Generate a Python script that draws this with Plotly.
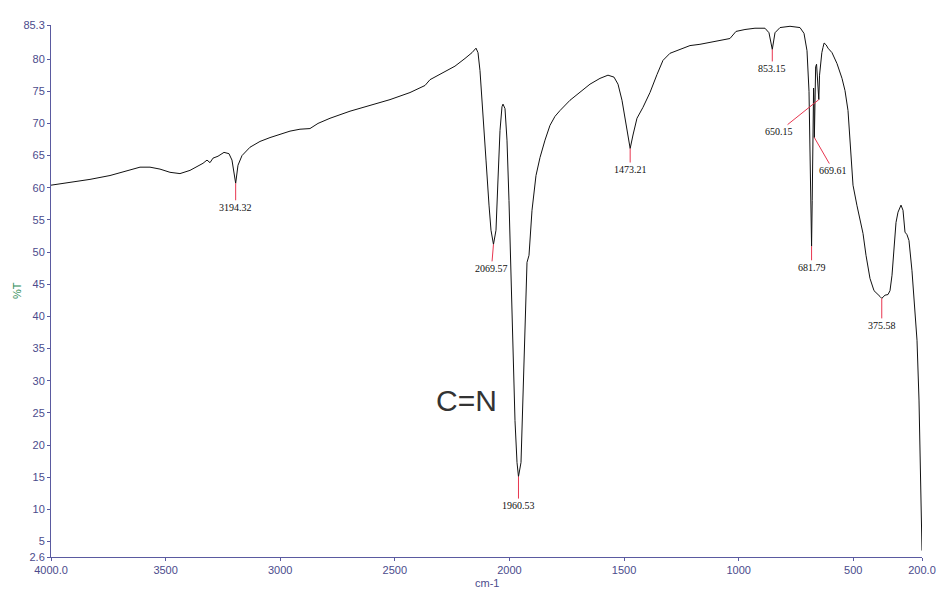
import plotly.graph_objects as go

# IR spectrum: wavenumber (cm-1) and transmittance (%T)
wavenumber = [
    4000.0, 3917.1, 3829.9, 3742.6, 3677.2, 3611.7, 3568.1, 3524.5, 3480.9, 3437.3,
    3393.6, 3358.7, 3336.9, 3319.4, 3306.3, 3293.3, 3271.4, 3245.3, 3223.5, 3210.4,
    3194.32, 3184.2, 3166.7, 3131.8, 3088.2, 3044.6, 3000.9, 2957.3, 2913.7, 2870.1,
    2835.1, 2782.8, 2695.5, 2608.3, 2521.0, 2433.8, 2368.3, 2346.5, 2302.9, 2237.5,
    2193.8, 2163.3, 2145.8, 2137.1, 2128.4, 2115.3, 2102.2, 2089.1, 2080.4, 2069.57,
    2058.6, 2049.9, 2041.1, 2032.4, 2028.0, 2019.3, 2010.6, 2001.9, 1993.1, 1984.4,
    1975.7, 1966.9, 1960.53, 1949.5, 1940.8, 1932.1, 1923.3, 1914.6, 1901.5, 1884.1,
    1866.6, 1844.8, 1823.0, 1801.2, 1779.3, 1735.7, 1692.1, 1648.5, 1604.9, 1570.0,
    1543.8, 1526.3, 1508.9, 1491.4, 1473.21, 1460.9, 1443.5, 1417.3, 1386.8, 1356.2,
    1330.1, 1299.5, 1255.9, 1212.3, 1168.7, 1125.0, 1081.4, 1037.8, 1011.6, 972.3,
    928.7, 885.1, 867.6, 853.15, 841.3, 819.5, 775.9, 732.3, 714.8, 701.7,
    693.0, 687.0, 684.0, 681.79, 679.0, 676.0, 673.0, 671.5, 669.61, 667.0,
    664.0, 660.0, 656.0, 653.0, 650.15, 647.0, 643.0, 637.0, 632.0, 627.0,
    618.0, 610.1, 592.6, 570.8, 549.0, 535.9, 522.8, 514.1, 501.0, 483.6,
    470.5, 457.4, 444.3, 426.9, 409.4, 396.3, 383.2, 375.58, 361.4, 348.3,
    339.6, 330.9, 322.2, 313.4, 304.7, 291.6, 282.9, 274.2, 265.5, 256.8,
    243.7, 230.6, 221.8, 213.1, 208.8, 204.4, 200.0,
]
transmittance = [
    60.4, 60.8, 61.3, 61.9, 62.6, 63.2, 63.2, 62.9, 62.4, 62.2,
    62.7, 63.3, 63.8, 64.3, 63.9, 64.6, 64.9, 65.5, 65.3, 64.3,
    60.7, 63.5, 65.0, 66.3, 67.2, 67.8, 68.3, 68.8, 69.1, 69.2,
    70.0, 70.8, 71.9, 72.8, 73.7, 74.8, 75.9, 76.8, 77.6, 78.9,
    80.1, 81.0, 81.7, 81.0, 78.2, 72.0, 64.3, 57.3, 53.4, 51.2,
    53.4, 61.2, 68.9, 72.6, 73.0, 72.3, 67.4, 58.0, 45.6, 33.2,
    23.8, 17.3, 15.1, 17.3, 26.9, 39.4, 48.4, 49.5, 56.5, 61.9,
    64.7, 67.4, 69.7, 71.1, 72.0, 73.6, 74.8, 76.1, 77.0, 77.5,
    77.2, 76.1, 73.6, 69.7, 66.1, 68.2, 70.8, 72.5, 74.8, 77.6,
    79.8, 80.9, 81.5, 82.1, 82.3, 82.6, 82.9, 83.2, 84.3, 84.6,
    84.8, 84.8, 84.1, 81.5, 84.1, 84.9, 85.1, 84.9, 84.0, 81.3,
    75.0, 64.0, 57.0, 50.9, 58.0, 66.0, 75.5, 74.0, 67.8, 76.0,
    78.8, 79.2, 77.0, 75.0, 73.7, 77.5, 79.5, 81.0, 81.8, 82.5,
    82.2, 81.7, 81.0, 79.3, 77.0, 75.1, 72.0, 67.4, 60.4, 57.2,
    55.2, 52.9, 49.5, 45.9, 44.0, 43.6, 43.1, 42.8, 43.3, 43.4,
    44.0, 46.4, 50.3, 54.6, 56.2, 57.3, 56.5, 53.1, 52.7, 51.8,
    47.1, 40.9, 36.3, 27.0, 19.2, 11.4, 3.6,
]

# Labelled band positions and where their labels sit (pixel offsets)
peak_wavenumbers = [3194.32, 2069.57, 1960.53, 1473.21, 853.15, 681.79, 669.61, 650.15, 375.58]
peak_labels = ["3194.32", "2069.57", "1960.53", "1473.21", "853.15", "681.79", "669.61", "650.15", "375.58"]
label_dx = [0, -2, 0, 0, 0, 0, 19, -40, 0]
label_dy = [24, 24, 29, 21, 19, 21, 33, 32, 27]

y_tickvals = [2.6, 5, 10, 15, 20, 25, 30, 35, 40, 45, 50, 55, 60, 65, 70, 75, 80, 85.3]
y_ticktext = ["2.6", "5", "10", "15", "20", "25", "30", "35", "40", "45", "50", "55",
              "60", "65", "70", "75", "80", "85.3"]
x_tickvals = [4000, 3500, 3000, 2500, 2000, 1500, 1000, 500, 200]
x_ticktext = ["4000.0", "3500", "3000", "2500", "2000", "1500", "1000", "500", "200.0"]

AXIS = "#5a5aa0"
TICKFONT = dict(family="Liberation Sans, Arial, sans-serif", size=11, color="#4b4b8c")

fig = go.Figure()
fig.add_trace(go.Scatter(
    x=wavenumber, y=transmittance, mode="lines",
    line=dict(color="#111111", width=1), hoverinfo="x+y", showlegend=False,
))

lookup = dict(zip(wavenumber, transmittance))
annotations = []
for wn, txt, dx, dy in zip(peak_wavenumbers, peak_labels, label_dx, label_dy):
    annotations.append(dict(
        x=wn, y=lookup[wn], xref="x", yref="y", text=txt,
        showarrow=True, arrowhead=0, arrowwidth=1, arrowcolor="#e8364f",
        ax=dx, ay=dy, standoff=0, startstandoff=0,
        font=dict(family="Liberation Serif, Times New Roman, serif", size=10, color="#111111"),
    ))

annotations.append(dict(
    x=2189, y=27, xref="x", yref="y", text="C=N", showarrow=False,
    font=dict(family="Liberation Sans, Arial, sans-serif", size=30, color="#333333"),
))
annotations.append(dict(
    x=-0.039, y=0.5, xref="paper", yref="paper", text="%T", showarrow=False,
    xanchor="center", yanchor="middle", textangle=-90,
    font=dict(family="Liberation Sans, Arial, sans-serif", size=11, color="#2e8b57"),
))
annotations.append(dict(
    x=0.5, y=0, xref="paper", yref="paper", text="cm-1", showarrow=False,
    xanchor="center", yanchor="middle", yshift=-25.5,
    font=dict(family="Liberation Sans, Arial, sans-serif", size=11, color="#4b4b8c"),
))

fig.update_layout(
    width=937, height=594,
    margin=dict(l=51, r=15, t=24.6, b=36.5, autoexpand=False),
    paper_bgcolor="white", plot_bgcolor="white",
    annotations=annotations,
    xaxis=dict(
        range=[4000, 200], tickvals=x_tickvals, ticktext=x_ticktext,
        showline=True, linecolor=AXIS, linewidth=1, ticks="outside", ticklen=3,
        tickcolor=AXIS, showgrid=False, zeroline=False, tickfont=TICKFONT,
        automargin=False,
    ),
    yaxis=dict(
        range=[2.6, 85.3], tickvals=y_tickvals, ticktext=y_ticktext,
        showline=True, linecolor=AXIS, linewidth=1, ticks="outside", ticklen=3,
        tickcolor=AXIS, showgrid=False, zeroline=False, tickfont=TICKFONT,
        automargin=False,
    ),
)

fig.write_html("out.html")
